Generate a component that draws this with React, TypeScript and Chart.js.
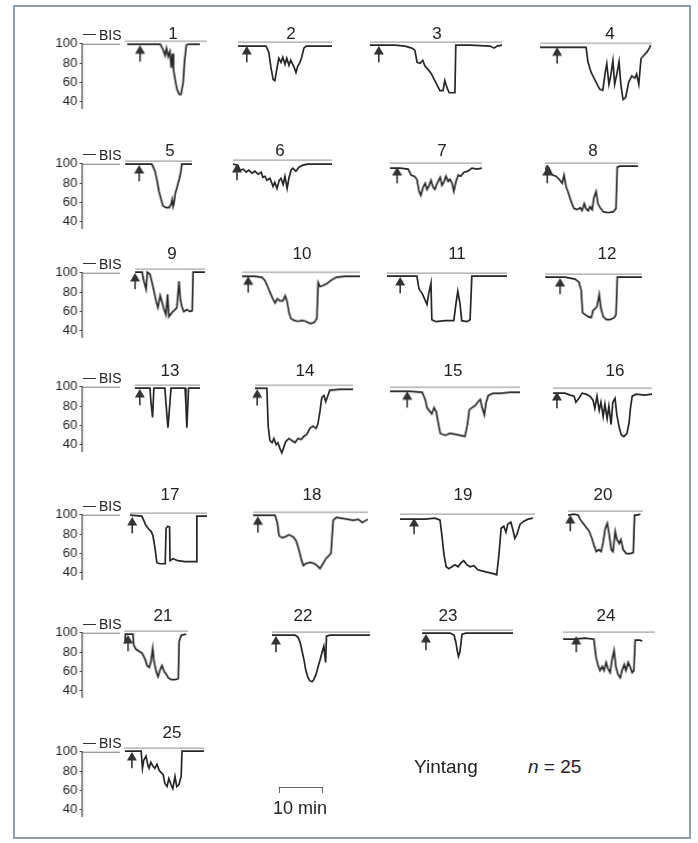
import React, { useEffect, useRef } from "react";
import { Chart, registerables } from "chart.js";
Chart.register(...registerables);

type Pt = [number, number];

// ---------------- DATA (minutes, BIS) ----------------
const bis01: Pt[] = [[0.5,97],[8.0,97],[8.6,92],[9.1,86],[9.4,93],[9.8,85],[10.2,90],[10.5,74],[10.8,88],[11.0,72],[11.4,62],[11.8,53],[12.3,48],[12.7,48],[13.2,60],[13.5,80],[13.9,96],[14.3,97],[17.0,97]];
const bis02: Pt[] = [[0,96],[6.4,96],[7.0,90],[7.5,75],[8.0,63],[8.4,62],[8.9,75],[9.3,84],[9.8,80],[10.2,85],[10.7,78],[11.1,84],[11.6,77],[12.0,82],[12.7,76],[13.2,70],[13.6,76],[14.1,80],[14.5,85],[15.0,94],[15.5,96],[21.4,96]];
const bis03: Pt[] = [[0,97],[5.7,97],[8.0,96],[9.5,94],[10.2,92],[10.7,80],[11.4,79],[12.0,82],[12.5,76],[13.2,73],[13.9,69],[14.5,64],[15.2,58],[15.9,52],[16.6,52],[17.0,62],[17.5,55],[18.0,50],[19.3,50],[19.5,97],[22.7,97],[27.3,96],[28.2,94],[28.9,96],[30,97]];
const bis04: Pt[] = [[0,96],[10.5,96],[10.9,82],[11.6,72],[12.3,66],[13.0,60],[13.6,55],[14.3,54],[14.8,70],[15.2,80],[15.7,60],[16.1,68],[16.6,83],[17.0,60],[17.5,70],[18.0,82],[18.4,60],[18.9,45],[19.5,47],[20.2,62],[20.9,68],[21.6,66],[22.0,70],[22.5,60],[23.0,85],[23.6,88],[24.3,91],[25.0,96],[25.2,98]];
const bis05: Pt[] = [[0,97],[6.1,97],[6.8,90],[7.3,80],[7.7,70],[8.2,62],[8.6,56],[9.3,54],[10.0,54],[10.5,58],[10.7,62],[10.9,55],[11.1,58],[11.4,68],[11.8,74],[12.3,82],[12.7,90],[12.9,97],[15.2,97]];
const bis06: Pt[] = [[0,96],[1.1,95],[1.6,90],[2.3,91],[3.0,88],[3.6,90],[4.3,87],[5.0,89],[5.7,86],[6.4,88],[6.8,83],[7.3,84],[7.7,80],[8.4,82],[9.1,74],[9.5,78],[10.0,72],[10.5,80],[10.9,82],[11.4,76],[11.8,84],[12.3,72],[12.7,82],[13.2,90],[13.6,92],[14.3,89],[15.0,93],[15.9,95],[17.0,96],[22.5,96]];
const bis07: Pt[] = [[0,95],[2.3,95],[4.1,94],[4.8,88],[5.5,87],[6.1,84],[6.6,72],[7.0,68],[7.5,76],[8.0,80],[8.4,74],[8.9,78],[9.3,83],[9.8,76],[10.2,74],[10.7,80],[11.4,86],[11.8,78],[12.3,82],[12.7,87],[13.2,82],[13.6,84],[14.1,80],[14.5,72],[15.0,82],[15.5,88],[16.1,87],[16.8,91],[17.7,92],[18.6,95],[19.8,94],[20.9,95]];
const bis08: Pt[] = [[0,93],[0.5,97],[0.9,95],[1.4,90],[1.8,88],[2.5,87],[3.2,84],[3.9,80],[4.3,88],[4.8,76],[5.2,72],[5.7,65],[6.1,60],[6.6,55],[7.3,54],[8.0,56],[8.4,53],[8.9,60],[9.3,55],[9.8,53],[10.2,57],[10.7,54],[11.1,66],[11.6,72],[12.0,60],[12.5,56],[13.2,52],[14.3,51],[15.5,52],[16.1,55],[16.4,96],[17.0,97],[21.1,97]];
const bis09: Pt[] = [[0,97],[1.6,97],[2.0,88],[2.5,80],[2.8,97],[3.4,95],[3.9,86],[4.3,78],[4.8,68],[5.2,62],[5.7,74],[6.1,68],[6.6,60],[7.0,55],[7.4,75],[7.7,53],[8.2,56],[8.6,58],[9.1,60],[9.5,62],[10.0,88],[10.3,70],[10.7,62],[11.1,58],[11.8,60],[12.5,58],[13.0,59],[13.2,97],[15.9,97]];
const bis10: Pt[] = [[0,96],[3.0,96],[4.5,95],[5.2,92],[5.9,85],[6.4,80],[7.0,74],[7.5,70],[8.0,74],[8.6,72],[9.3,72],[9.8,77],[10.2,72],[10.7,60],[11.1,55],[11.8,53],[12.7,52],[13.6,53],[14.5,52],[15.5,50],[16.4,51],[17.0,55],[17.3,90],[17.7,86],[18.4,87],[19.3,89],[20.2,92],[21.4,95],[23.4,96],[26.8,96]];
const bis11: Pt[] = [[0,97],[6.8,97],[7.3,84],[8.0,80],[8.6,74],[9.1,69],[9.5,80],[10.0,90],[10.2,54],[11.1,52],[13.2,53],[15.2,53],[15.7,70],[16.1,82],[16.6,70],[17.0,53],[18.2,52],[18.9,54],[19.3,97],[27.3,97]];
const bis12: Pt[] = [[0,97],[4.5,97],[6.8,95],[7.7,92],[8.2,84],[8.5,62],[9.1,60],[9.8,58],[10.5,57],[10.9,64],[11.4,66],[11.8,68],[12.3,80],[12.7,66],[13.2,58],[13.9,55],[14.8,55],[15.7,57],[16.1,60],[16.4,97],[22.0,97]];
const bis13: Pt[] = [[0,97],[3.4,97],[3.6,85],[4.0,68],[4.3,97],[6.8,97],[7.0,85],[7.5,58],[8.0,85],[8.2,97],[11.4,97],[11.6,80],[11.8,58],[12.2,97],[14.8,97]];
const bis14: Pt[] = [[0,97],[2.7,97],[3.0,60],[3.4,46],[3.9,44],[4.3,48],[4.8,42],[5.2,44],[5.7,38],[6.1,34],[6.6,40],[7.0,45],[7.7,48],[8.4,46],[9.1,44],[9.8,48],[10.5,47],[11.1,50],[11.8,52],[12.5,58],[13.2,60],[13.9,58],[14.3,62],[14.8,75],[15.2,88],[15.7,90],[16.1,84],[16.6,90],[17.0,95],[19.3,96],[22.3,96]];
const bis15: Pt[] = [[0,96],[4.5,96],[7.3,95],[8.0,88],[8.4,80],[9.1,76],[9.5,74],[10.0,80],[10.5,76],[10.9,66],[11.4,55],[12.5,53],[13.6,55],[14.8,54],[15.9,53],[17.0,52],[17.5,62],[18.0,78],[18.6,80],[19.3,82],[20.0,86],[20.5,88],[20.9,80],[21.4,73],[21.8,85],[22.3,92],[23.4,94],[25.0,94],[27.3,95],[29.5,95]];
const bis16: Pt[] = [[0,95],[2.7,95],[3.9,93],[4.8,92],[5.2,86],[5.9,90],[6.6,95],[7.5,94],[8.4,92],[9.1,88],[9.5,80],[10.0,92],[10.5,78],[10.9,86],[11.4,72],[11.8,84],[12.3,70],[12.7,82],[13.2,64],[13.6,86],[14.1,90],[14.5,74],[15.0,62],[15.5,54],[16.1,52],[16.8,55],[17.3,66],[17.6,80],[18.0,92],[18.9,94],[20.9,93],[22.5,94]];
const bis17: Pt[] = [[0,98],[2.7,97],[3.2,92],[3.6,88],[4.3,84],[4.8,82],[5.2,78],[5.7,65],[6.1,51],[6.8,50],[8.0,50],[8.2,85],[8.6,87],[9.0,86],[9.1,53],[9.8,55],[10.9,53],[12.5,52],[13.6,52],[15.0,52],[15.2,97],[17.5,97]];
const bis18: Pt[] = [[0,97],[5.0,97],[5.5,90],[5.9,77],[6.6,75],[7.3,76],[8.2,78],[9.1,76],[9.8,72],[10.5,62],[10.9,55],[11.4,48],[12.0,50],[13.0,51],[13.9,50],[14.5,48],[15.2,45],[15.9,50],[16.6,55],[17.3,58],[17.7,60],[18.2,92],[18.9,95],[20.2,94],[21.6,93],[22.7,92],[23.9,93],[24.8,90],[26.1,93]];
const bis19: Pt[] = [[0,95],[3.4,95],[5.7,95],[8.0,96],[9.1,94],[9.5,80],[10.0,60],[10.5,48],[11.1,46],[11.8,48],[12.5,50],[13.2,48],[13.9,52],[14.5,54],[15.2,50],[15.9,48],[16.8,49],[17.7,45],[18.6,44],[19.5,43],[20.5,42],[21.4,41],[22.0,40],[22.5,60],[23.0,86],[23.6,88],[24.1,82],[24.5,90],[25.2,92],[25.7,84],[26.1,76],[26.6,80],[27.3,90],[28.2,93],[29.1,95],[30.2,96]];
const bis20: Pt[] = [[0,96],[1.4,97],[2.3,96],[2.7,92],[3.4,88],[4.1,84],[4.8,80],[5.5,72],[5.9,66],[6.4,60],[7.0,62],[7.5,60],[8.0,70],[8.4,82],[8.9,88],[9.3,78],[9.8,62],[10.2,60],[10.7,80],[11.1,72],[11.6,68],[12.0,72],[12.5,62],[13.2,58],[14.1,58],[14.8,59],[15.1,96],[15.7,96],[16.4,97]];
const bis21: Pt[] = [[0.2,88],[0.3,97],[2.0,97],[2.2,86],[2.7,82],[3.4,80],[4.1,78],[4.8,72],[5.2,66],[5.7,64],[6.1,70],[6.5,83],[6.8,70],[7.3,60],[7.7,55],[8.2,62],[8.6,66],[9.1,60],[9.5,58],[10.0,54],[10.7,52],[11.6,52],[12.3,53],[12.5,90],[13.0,96],[14.1,97]];
const bis22: Pt[] = [[0,97],[5.2,97],[5.9,95],[6.4,90],[6.8,82],[7.3,72],[7.7,62],[8.2,55],[8.6,52],[9.1,51],[9.5,53],[10.0,58],[10.5,66],[10.9,72],[11.4,80],[11.8,86],[12.2,70],[12.4,96],[13.2,97],[22.3,97]];
const bis23: Pt[] = [[0,97],[6.4,97],[7.3,95],[7.7,88],[8.0,80],[8.3,74],[8.6,78],[8.9,88],[9.1,96],[10.0,97],[20.7,97]];
const bis24: Pt[] = [[0,93],[2.7,93],[5.0,94],[7.0,93],[7.5,75],[7.9,68],[8.4,62],[8.9,66],[9.3,62],[9.8,70],[10.2,64],[10.7,60],[11.1,72],[11.6,82],[12.0,66],[12.5,58],[13.0,55],[13.4,62],[13.9,68],[14.3,62],[14.8,70],[15.2,66],[15.7,60],[16.1,62],[16.4,92],[17.5,92],[18.0,91]];
const bis25: Pt[] = [[0.2,97],[3.9,97],[4.2,80],[4.5,88],[5.0,92],[5.5,82],[5.7,80],[6.1,86],[6.6,82],[7.0,80],[7.5,84],[8.0,78],[8.4,76],[8.9,74],[9.3,65],[9.8,62],[10.2,70],[10.7,64],[11.1,60],[11.6,72],[12.0,62],[12.5,64],[13.0,72],[13.2,97],[14.8,97],[18.2,97]];

const traces: Pt[][] = [bis01,bis02,bis03,bis04,bis05,bis06,bis07,bis08,bis09,bis10,bis11,bis12,bis13,bis14,bis15,bis16,bis17,bis18,bis19,bis20,bis21,bis22,bis23,bis24,bis25];
// duration of each record (minutes) and time of the stimulus arrow (minutes)
const recordSpan = [18.6,21.4,30,25.5,15.2,22.5,20.9,21.1,15.9,26.8,27.3,22.0,14.8,22.3,29.5,22.5,17.5,26.1,30.7,17.0,14.5,22.3,20.7,20.9,18.2];
const arrowAt = [3.4,2.0,2.0,3.9,3.2,0.9,1.6,0.5,0,1.4,3.0,3.4,1.1,0.5,3.9,0.9,0.5,1.1,3.2,0.5,0.9,0.9,0.9,3.0,1.8];
const panelLabels = ["1","2","3","4","5","6","7","8","9","10","11","12","13","14","15","16","17","18","19","20","21","22","23","24","25"];
const yTicks = [40, 60, 80, 100];
const REF_BIS = 100;
const SCALE_BAR_MIN = 10;

// ---------------- LAYOUT ----------------
const PX_PER_MIN = 4.4;
const PX_PER_BIS = 1.02;
const Y_LO = 30, Y_HI = 104;
const PAD = 8;
const panelX0 = [125,238,370,540,125,233,390,545,135,242,387,545,135,255,390,553,130,253,400,568,124,272,422,563,124];
const panelY100 = [41.5,42,42,43.5,161,160,163,163,269,272.5,273,274,385,385.5,387.5,388,513,512.5,514,511,631,632,630,632,748];
const titleX = [173,291,437,610,170,280,442,593,172,302,457,607,170,305,453,615,170,312,463,603,163,303,448,606,172];
const rowTitleY = [32.5,150,253,370,494,615,732];
const rowAxisY100 = [41.5,161.5,270.5,385,513,631,750];
const AXIS_X = 82;
const AXIS_W = 40;
const AXIS_BOTTOM = 33;
const AXIS_TOP_LINE_MIN = 8.6;
const FONT = "'Liberation Sans', Arial, Helvetica, sans-serif";
const INK = "#262626";

const arrowPlugin = {
  id: "stimArrow",
  afterDatasetsDraw(chart: any, _a: any, opts: any) {
    const { ctx } = chart;
    const x = chart.scales.x, y = chart.scales.y;
    const px = x.getPixelForValue(opts.at);
    const top = y.getPixelForValue(96);
    const bottom = y.getPixelForValue(80);
    ctx.save();
    ctx.strokeStyle = "#333";
    ctx.fillStyle = "#333";
    ctx.lineWidth = 1.6;
    ctx.beginPath();
    ctx.moveTo(px, top + 6);
    ctx.lineTo(px, bottom);
    ctx.stroke();
    ctx.beginPath();
    ctx.moveTo(px, top);
    ctx.lineTo(px - 5, top + 8.5);
    ctx.lineTo(px + 5, top + 8.5);
    ctx.closePath();
    ctx.fill();
    ctx.restore();
  },
};

function Panel({ i }: { i: number }) {
  const ref = useRef<HTMLCanvasElement>(null);
  const span = recordSpan[i];
  const w = span * PX_PER_MIN + 2 * PAD;
  const h = (Y_HI - Y_LO) * PX_PER_BIS + 2 * PAD;
  const left = panelX0[i] - PAD;
  const top = panelY100[i] - (Y_HI - 100) * PX_PER_BIS - PAD;
  useEffect(() => {
    const chart = new Chart(ref.current!, {
      type: "line",
      data: {
        datasets: [
          { data: [{ x: 0, y: REF_BIS }, { x: span, y: REF_BIS }], borderColor: "#a5a5a5", borderWidth: 1.3, pointRadius: 0 },
          { data: traces[i].map(([x, y]) => ({ x, y })), borderColor: INK, borderWidth: 1.7, pointRadius: 0, tension: 0 },
        ],
      },
      options: {
        responsive: false,
        animation: false,
        devicePixelRatio: 1,
        events: [],
        layout: { padding: PAD },
        plugins: { legend: { display: false }, tooltip: { enabled: false }, stimArrow: { at: arrowAt[i] } } as any,
        scales: {
          x: { type: "linear", min: 0, max: span, display: false },
          y: { type: "linear", min: Y_LO, max: Y_HI, display: false },
        },
      },
      plugins: [arrowPlugin as any],
    });
    return () => chart.destroy();
  }, []);
  const row = Math.floor(i / 4);
  return (
    <>
      <canvas ref={ref} width={w} height={h} style={{ position: "absolute", left, top, width: w, height: h }} />
      <div style={{ position: "absolute", left: titleX[i], top: rowTitleY[row], transform: "translate(-50%,-50%)", fontFamily: FONT, fontSize: 17, lineHeight: 1, color: "#222" }}>
        {panelLabels[i]}
      </div>
    </>
  );
}

function Axis({ r }: { r: number }) {
  const ref = useRef<HTMLCanvasElement>(null);
  const y100 = rowAxisY100[r];
  const w = AXIS_W + AXIS_TOP_LINE_MIN * PX_PER_MIN + 4;
  const h = (100 - AXIS_BOTTOM) * PX_PER_BIS + 16;
  const left = AXIS_X - AXIS_W;
  const top = y100 - 8;
  useEffect(() => {
    const chart = new Chart(ref.current!, {
      type: "line",
      data: {
        datasets: [
          { data: [{ x: 0, y: REF_BIS }, { x: AXIS_TOP_LINE_MIN, y: REF_BIS }], borderColor: "#444", borderWidth: 1.3, pointRadius: 0 },
        ],
      },
      options: {
        responsive: false,
        animation: false,
        devicePixelRatio: 1,
        events: [],
        layout: { padding: { left: 0, right: 4, top: 8, bottom: 8 } },
        plugins: { legend: { display: false }, tooltip: { enabled: false } },
        scales: {
          x: { type: "linear", min: 0, max: AXIS_TOP_LINE_MIN, display: false },
          y: {
            type: "linear",
            min: AXIS_BOTTOM,
            max: 100,
            afterFit: (s: any) => { s.width = AXIS_W; },
            afterBuildTicks: (s: any) => { s.ticks = yTicks.map((v) => ({ value: v })); },
            ticks: { font: { family: FONT, size: 13 }, color: "#222", padding: 2 },
            grid: { display: true, drawOnChartArea: false, drawTicks: true, tickLength: 3, color: "#444" },
            border: { display: true, color: "#444", width: 1.2 },
          },
        },
      },
    });
    return () => chart.destroy();
  }, []);
  return (
    <>
      <canvas ref={ref} width={w} height={h} style={{ position: "absolute", left, top, width: w, height: h }} />
      <div style={{ position: "absolute", left: 83, top: y100 - 7.5, width: 13, borderTop: "1.5px solid #333" }} />
      <div style={{ position: "absolute", left: 99, top: y100 - 7, transform: "translateY(-50%)", fontFamily: FONT, fontSize: 14, lineHeight: 1, color: "#222" }}>BIS</div>
    </>
  );
}

function ScaleBar() {
  const ref = useRef<HTMLCanvasElement>(null);
  const w = SCALE_BAR_MIN * PX_PER_MIN + 4;
  const h = 10;
  useEffect(() => {
    const chart = new Chart(ref.current!, {
      type: "line",
      data: {
        datasets: [
          { data: [{ x: 0, y: 0 }, { x: 0, y: 1 }, { x: SCALE_BAR_MIN, y: 1 }, { x: SCALE_BAR_MIN, y: 0 }], borderColor: "#333", borderWidth: 1.5, pointRadius: 0 },
        ],
      },
      options: {
        responsive: false,
        animation: false,
        devicePixelRatio: 1,
        events: [],
        layout: { padding: 2 },
        plugins: { legend: { display: false }, tooltip: { enabled: false } },
        scales: { x: { type: "linear", min: 0, max: SCALE_BAR_MIN, display: false }, y: { min: 0, max: 1, display: false } },
      },
    });
    return () => chart.destroy();
  }, []);
  return (
    <>
      <canvas ref={ref} width={w} height={h} style={{ position: "absolute", left: 277, top: 785, width: w, height: h }} />
      <div style={{ position: "absolute", left: 300, top: 808, transform: "translate(-50%,-50%)", fontFamily: FONT, fontSize: 18, lineHeight: 1, color: "#222", whiteSpace: "nowrap" }}>10 min</div>
    </>
  );
}

export default function App() {
  return (
    <div style={{ position: "fixed", left: 0, top: 0, width: 698, height: 843, background: "#fff", overflow: "hidden" }}>
      <div style={{ position: "absolute", left: 13, top: 5, width: 678, height: 834, border: "2px solid #8d9fb0", boxSizing: "border-box" }} />
      {rowAxisY100.map((_, r) => <Axis key={"a" + r} r={r} />)}
      {traces.map((_, i) => <Panel key={"p" + i} i={i} />)}
      <ScaleBar />
      <div style={{ position: "absolute", left: 414, top: 766, transform: "translateY(-50%)", fontFamily: FONT, fontSize: 19, lineHeight: 1, color: "#222" }}>Yintang</div>
      <div style={{ position: "absolute", left: 528, top: 766, transform: "translateY(-50%)", fontFamily: FONT, fontSize: 19, lineHeight: 1, color: "#222", whiteSpace: "pre" }}>
        <i>n</i> = 25
      </div>
    </div>
  );
}
